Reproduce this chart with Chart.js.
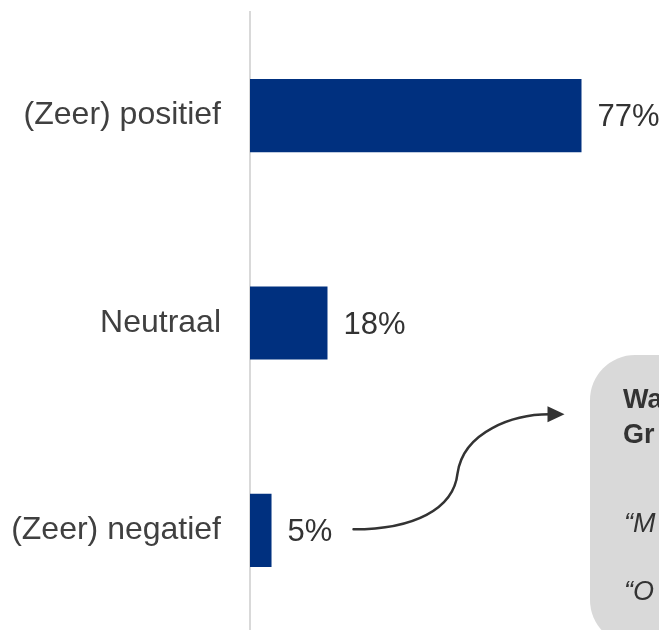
<!DOCTYPE html>
<html>
<head>
<meta charset="utf-8">
<script src="https://cdn.jsdelivr.net/npm/chart.js@4/dist/chart.umd.min.js"></script>
<style>
  html, body { margin: 0; padding: 0; background: #ffffff; overflow: hidden; }
  #wrap { position: relative; width: 659px; height: 634px; }
</style>
</head>
<body>
<div id="wrap"><canvas id="c" width="659" height="634"></canvas></div>
<script>
const categories = ["(Zeer) positief", "Neutraal", "(Zeer) negatief"];
const values = [77, 18, 5];
const valueLabels = ["77%", "18%", "5%"];
const boxTitle = ["Waarom (zeer) negatief?", "Gr\u00A0 ergernissen:"];
const boxQuotes = ["\u201CM\u00A0 aandacht voor\u2026\u201D", "\u201CO\u00A0 informatie\u2026\u201D"];

const FONT = "'Liberation Sans', Arial, Helvetica, sans-serif";

const valueLabelPlugin = {
  id: 'valueLabels',
  afterDatasetsDraw(chart) {
    const ctx = chart.ctx;
    const meta = chart.getDatasetMeta(0);
    ctx.save();
    ctx.font = "31px " + FONT;
    ctx.fillStyle = "#333333";
    ctx.textAlign = "left";
    ctx.textBaseline = "middle";
    meta.data.forEach((bar, i) => {
      ctx.fillText(valueLabels[i], bar.x + 16, bar.y + 2);
    });
    ctx.restore();
  }
};

const calloutPlugin = {
  id: 'callout',
  afterDraw(chart) {
    const ctx = chart.ctx;
    const meta = chart.getDatasetMeta(0);
    const last = meta.data[meta.data.length - 1];
    ctx.save();
    // rounded grey box
    const bx = 590, by = 355, bw = 140, bh = 290, r = 45;
    ctx.fillStyle = "#d9d9d9";
    ctx.beginPath();
    ctx.moveTo(bx + r, by);
    ctx.lineTo(bx + bw - r, by);
    ctx.arcTo(bx + bw, by, bx + bw, by + r, r);
    ctx.lineTo(bx + bw, by + bh - r);
    ctx.arcTo(bx + bw, by + bh, bx + bw - r, by + bh, r);
    ctx.lineTo(bx + r, by + bh);
    ctx.arcTo(bx, by + bh, bx, by + bh - r, r);
    ctx.lineTo(bx, by + r);
    ctx.arcTo(bx, by, bx + r, by, r);
    ctx.closePath();
    ctx.fill();

    // text
    ctx.fillStyle = "#333333";
    ctx.textAlign = "left";
    ctx.textBaseline = "alphabetic";
    ctx.font = "bold 27px " + FONT;
    ctx.fillText(boxTitle[0], 623, 408);
    ctx.fillText(boxTitle[1], 623, 443);
    ctx.font = "italic 27px " + FONT;
    ctx.fillText(boxQuotes[0], 624, 532);
    ctx.fillText(boxQuotes[1], 624, 600);

    // curved arrow from the smallest bar's label
    const sx = last.x + 82, sy = last.y - 1;
    ctx.strokeStyle = "#333333";
    ctx.lineWidth = 2.5;
    ctx.lineCap = "round";
    ctx.beginPath();
    ctx.moveTo(sx, sy);
    ctx.bezierCurveTo(sx + 60, sy, sx + 100, sy - 20, sx + 104, sy - 56);
    ctx.bezierCurveTo(sx + 110, sy - 98, sx + 160, sy - 115, sx + 196, sy - 115);
    ctx.stroke();
    ctx.fillStyle = "#333333";
    ctx.beginPath();
    ctx.moveTo(sx + 194, sy - 123);
    ctx.lineTo(sx + 211, sy - 115);
    ctx.lineTo(sx + 194, sy - 107);
    ctx.closePath();
    ctx.fill();
    ctx.restore();
  }
};

new Chart(document.getElementById('c'), {
  type: 'bar',
  data: {
    labels: categories,
    datasets: [{
      data: values,
      backgroundColor: '#00307f',
      borderWidth: 0,
      categoryPercentage: 1.0,
      barPercentage: 0.353
    }]
  },
  options: {
    indexAxis: 'y',
    responsive: false,
    animation: false,
    events: [],
    layout: { padding: { top: 12, right: 0, bottom: 0, left: 0 } },
    plugins: { legend: { display: false }, tooltip: { enabled: false } },
    scales: {
      x: {
        display: false,
        min: 0,
        max: 95
      },
      y: {
        afterFit(scale) {
          scale.width = 250;
          scale.paddingTop = 0;
          scale.paddingBottom = 0;
        },
        grid: { display: false, drawTicks: false },
        border: { display: true, color: '#d9d9d9', width: 2 },
        ticks: {
          color: '#404040',
          padding: 29,
          font: { family: FONT, size: 32 }
        }
      }
    }
  },
  plugins: [valueLabelPlugin, calloutPlugin]
});
</script>
</body>
</html>
